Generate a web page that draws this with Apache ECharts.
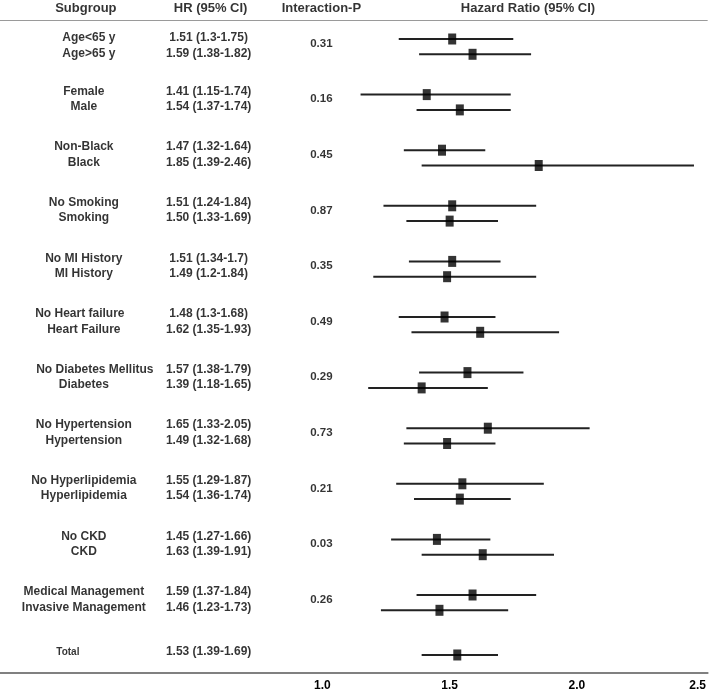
<!DOCTYPE html>
<html><head><meta charset="utf-8">
<script src="https://cdn.jsdelivr.net/npm/echarts@6/dist/echarts.min.js"></script>
<style>html,body{margin:0;padding:0;background:#fff}#c{width:709px;height:694px}</style>
</head><body><div id="c"></div>
<script>
// ---------- data ----------
const subgroups = ['Age<65 y','Age>65 y','Female','Male','Non-Black','Black','No Smoking','Smoking',
  'No MI History','MI History','No Heart failure','Heart Failure','No Diabetes Mellitus','Diabetes',
  'No Hypertension','Hypertension','No Hyperlipidemia','Hyperlipidemia','No CKD','CKD',
  'Medical Management','Invasive Management','Total'];
const hazardRatio = [1.51,1.59,1.41,1.54,1.47,1.85,1.51,1.50,1.51,1.49,1.48,1.62,1.57,1.39,1.65,1.49,1.55,1.54,1.45,1.63,1.59,1.46,1.53];
const ciLower = [1.30,1.38,1.15,1.37,1.32,1.39,1.24,1.33,1.34,1.20,1.30,1.35,1.38,1.18,1.33,1.32,1.29,1.36,1.27,1.39,1.37,1.23,1.39];
const ciUpper = [1.75,1.82,1.74,1.74,1.64,2.46,1.84,1.69,1.70,1.84,1.68,1.93,1.79,1.65,2.05,1.68,1.87,1.74,1.66,1.91,1.84,1.73,1.69];
const hrLabels = ['1.51 (1.3-1.75)','1.59 (1.38-1.82)','1.41 (1.15-1.74)','1.54 (1.37-1.74)','1.47 (1.32-1.64)','1.85 (1.39-2.46)',
  '1.51 (1.24-1.84)','1.50 (1.33-1.69)','1.51 (1.34-1.7)','1.49 (1.2-1.84)','1.48 (1.3-1.68)','1.62 (1.35-1.93)',
  '1.57 (1.38-1.79)','1.39 (1.18-1.65)','1.65 (1.33-2.05)','1.49 (1.32-1.68)','1.55 (1.29-1.87)','1.54 (1.36-1.74)',
  '1.45 (1.27-1.66)','1.63 (1.39-1.91)','1.59 (1.37-1.84)','1.46 (1.23-1.73)','1.53 (1.39-1.69)'];
const interactionP = ['0.31','0.16','0.45','0.87','0.35','0.49','0.29','0.73','0.21','0.03','0.26'];
const xTickValues = [1.0, 1.5, 2.0, 2.5];
const headers = ['Subgroup','HR (95% CI)','Interaction-P','Hazard Ratio (95% CI)'];

// ---------- layout (code only) ----------
const W = 709, H = 694;
const ROW_PX = 15.3, FIRST_PX = 39, GRID_BOTTOM_PX = 673;
const GROUP_STEP = 3.634, TOTAL_POS = 40.26;
const PX_PER_UNIT = 255, ONE_PX = 323;
const xMin = 1 - ONE_PX / PX_PER_UNIT, xMax = xMin + W / PX_PER_UNIT;
const yMin = -FIRST_PX / ROW_PX, yMax = (GRID_BOTTOM_PX - FIRST_PX) / ROW_PX;
const pxToU = px => (px - FIRST_PX) / ROW_PX;
const lastIdx = subgroups.length - 1;
function rowPos(i) {
  if (i === lastIdx) return TOTAL_POS;
  return Math.floor(i / 2) * GROUP_STEP + (i % 2);
}
const COL_SUB = 84, COL_HR = 209, COL_P = 322;
const headerX = [86, 211, 322, 529];
const subOffset = {0: 5, 1: 5, 10: -4, 12: 11, 22: -16};
const TEXT_DY = -0.2;
const FONT = '"Liberation Sans", Arial, Helvetica, sans-serif';

function textSeries(data, fmt, size) {
  return {
    type: 'scatter', xAxisIndex: 1, yAxisIndex: 0, symbolSize: 0, silent: true, clip: false,
    data: data,
    label: { show: true, position: 'inside', formatter: fmt, color: '#000', fontWeight: 'bold',
      fontFamily: FONT, fontSize: size },
    z: 5
  };
}

const subData = subgroups.map((s, i) => [COL_SUB + (subOffset[i] || 0), rowPos(i) + (i < 2 ? -0.07 : TEXT_DY)]);
const hrData = hrLabels.map((s, i) => [COL_HR, rowPos(i) + (i < 2 ? -0.07 : TEXT_DY)]);
const pData = interactionP.map((p, g) => [COL_P, g * GROUP_STEP + 0.5 - 0.2]);
const headData = headers.map((h, i) => [headerX[i], pxToU(8)]);

const chart = echarts.init(document.getElementById('c'), null, { renderer: 'canvas' });
chart.setOption({
  animation: false,
  backgroundColor: '#fff',
  grid: { left: 0, right: 0, top: 0, bottom: H - GRID_BOTTOM_PX, containLabel: false },
  xAxis: [
    { type: 'value', min: xMin, max: xMax, position: 'bottom',
      axisLine: { show: true, onZero: false, lineStyle: { color: '#808080', width: 2 } },
      axisTick: { show: false }, splitLine: { show: false },
      axisLabel: { customValues: xTickValues, margin: 7,
        formatter: v => (v === xTickValues[xTickValues.length - 1] ? '{e|' : '{n|') + v.toFixed(1) + '}',
        rich: {
          n: { fontSize: 12, fontWeight: 'bold', color: '#000', fontFamily: FONT },
          e: { fontSize: 12, fontWeight: 'bold', color: '#000', fontFamily: FONT, padding: [0, 13, 0, 0] }
        } } },
    { type: 'value', min: 0, max: W, show: false }
  ],
  yAxis: [{ type: 'value', inverse: true, min: yMin, max: yMax, show: false }],
  series: [
    {
      type: 'custom', xAxisIndex: 0, yAxisIndex: 0, silent: true,
      data: subgroups.map((s, i) => [ciLower[i], ciUpper[i], rowPos(i)]),
      encode: { x: [0, 1], y: 2 },
      renderItem: (params, api) => {
        const a = api.coord([api.value(0), api.value(2)]);
        const b = api.coord([api.value(1), api.value(2)]);
        return { type: 'line', shape: { x1: a[0], y1: a[1], x2: b[0], y2: b[1] },
          style: { stroke: '#222', lineWidth: 2 } };
      },
      markLine: {
        silent: true, symbol: 'none', label: { show: false },
        lineStyle: { color: '#9a9a9a', width: 1.2, type: 'solid' },
        data: [{ yAxis: pxToU(20) }]
      },
      z: 2
    },
    {
      type: 'scatter', xAxisIndex: 0, yAxisIndex: 0, silent: true,
      symbol: 'rect', symbolSize: [8, 11],
      itemStyle: { color: '#000' },
      data: hazardRatio.map((v, i) => [v, rowPos(i)]),
      z: 3
    },
    textSeries(subData.slice(0, lastIdx), p => subgroups[p.dataIndex], 12),
    textSeries([subData[lastIdx]], () => subgroups[lastIdx], 10),
    textSeries(hrData, p => hrLabels[p.dataIndex], 12),
    textSeries(pData, p => interactionP[p.dataIndex], 11.5),
    textSeries(headData, p => headers[p.dataIndex], 13)
  ]
});
</script></body></html>
